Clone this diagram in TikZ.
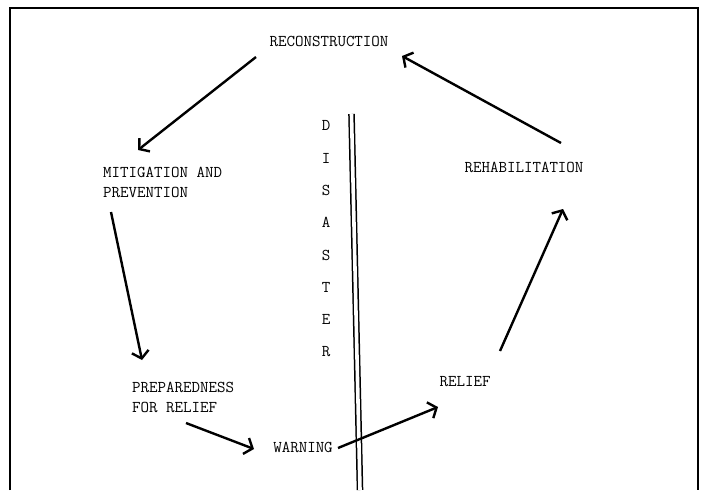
\documentclass[tikz,border=0pt]{standalone}
\usepackage{fontspec}
\usetikzlibrary{arrows.meta}

\begin{document}
\begin{tikzpicture}[x=1pt, y=-1pt,
		phase/.style={inner sep=0pt, align=left, font=\fontsize{16.5}{20}\selectfont\ttfamily\addfontfeatures{FakeBold=0.7}},
		cycle/.style={-{Straight Barb[length=7pt,width=17pt]}, line width=2.4pt},
	]
		\useasboundingbox (0,0) rectangle (703,490);
		\draw[line width=2.4pt] (10,490) -- (10,8) -- (698,8) -- (698,490);

		\node (recon) [phase] at (329,41) {RECONSTRUCTION};
		\node (mitig) [phase, anchor=west] at (103,182) {MITIGATION AND\\PREVENTION};
		\node (prep) [phase, anchor=west] at (132,397) {PREPAREDNESS\\FOR RELIEF};
		\node (warn) [phase] at (303,447) {WARNING};
		\node (relief) [phase] at (465,382) {RELIEF};
		\node (rehab) [phase] at (524,167) {REHABILITATION};
		\node (dis) [phase, align=center, font=\fontsize{16.5}{32.3}\selectfont\ttfamily\addfontfeatures{FakeBold=0.7}] at (326,239)
			{D\\I\\S\\A\\S\\T\\E\\R};

		\coordinate (divtop) at (351.5,114);
		\coordinate (divbot) at (360,490);
		\draw[double, line width=1.5pt, double distance=3.6pt] (divtop) -- (divbot);

		\draw[cycle] ([shift={(-73,16)}]recon.center) -- ([shift={(35,-32)}]mitig.west);
		\draw[cycle] ([shift={(8,30)}]mitig.west) -- ([shift={(10,-37)}]prep.west);
		\draw[cycle] ([shift={(54,26)}]prep.west) -- ([shift={(-49,2)}]warn.center);
		\draw[cycle] ([shift={(35,1)}]warn.center) -- ([shift={(-27,25)}]relief.center);
		\draw[cycle] ([shift={(35,-31)}]relief.center) -- ([shift={(39,42)}]rehab.center);
		\draw[cycle] ([shift={(37,-24)}]rehab.center) -- ([shift={(73,15)}]recon.center);
	\end{tikzpicture}
\end{document}
